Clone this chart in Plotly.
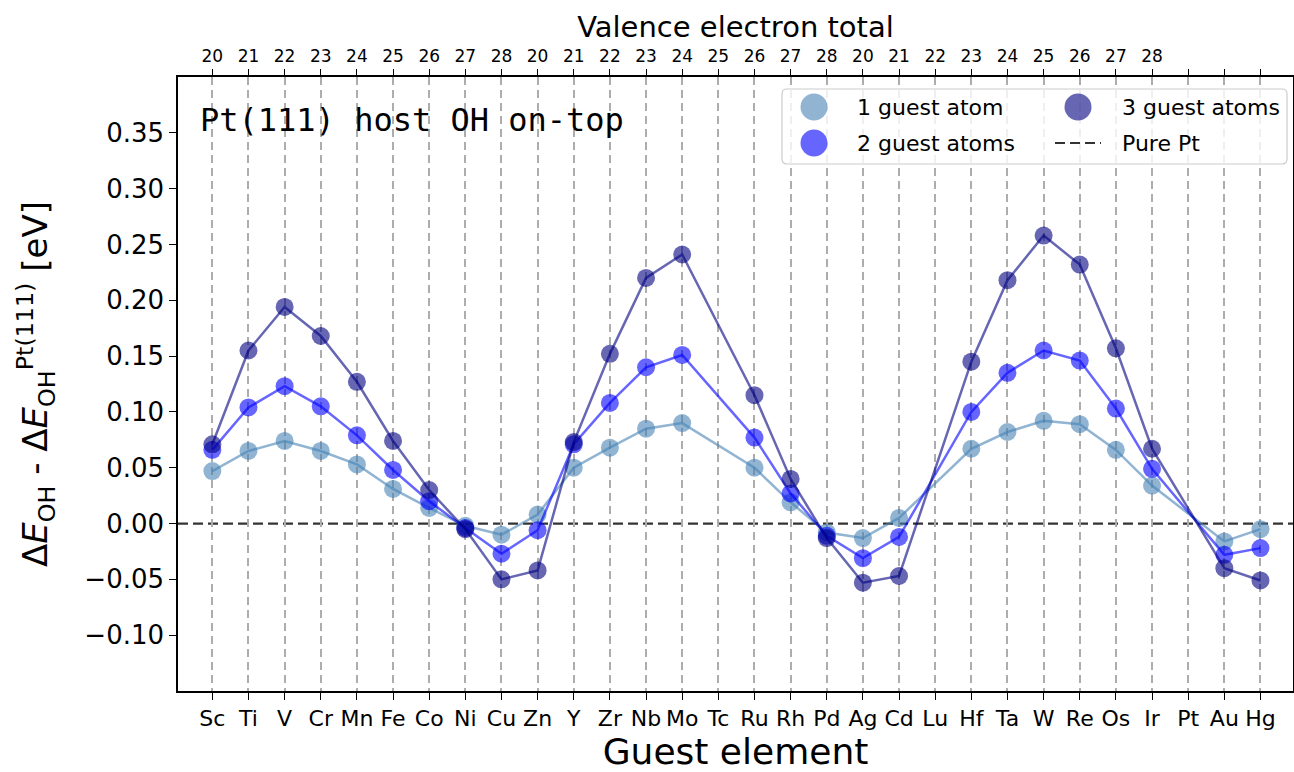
import plotly.graph_objects as go

# ---------------- data ----------------
elements = ["Sc", "Ti", "V", "Cr", "Mn", "Fe", "Co", "Ni", "Cu", "Zn",
            "Y", "Zr", "Nb", "Mo", "Tc", "Ru", "Rh", "Pd", "Ag", "Cd",
            "Lu", "Hf", "Ta", "W", "Re", "Os", "Ir", "Pt", "Au", "Hg"]
valence_labels = ["20", "21", "22", "23", "24", "25", "26", "27", "28",
                  "20", "21", "22", "23", "24", "25", "26", "27", "28",
                  "20", "21", "22", "23", "24", "25", "26", "27", "28",
                  "", "", ""]
one_guest = [0.047, 0.065, 0.074, 0.065, 0.053, 0.031, 0.014, -0.002, -0.010, 0.008,
             0.050, 0.068, 0.085, 0.090, None, 0.050, 0.019, -0.008, -0.013, 0.005,
             None, 0.067, 0.082, 0.092, 0.089, 0.066, 0.034, None, -0.016, -0.005]
two_guest = [0.066, 0.104, 0.123, 0.105, 0.079, 0.048, 0.020, -0.004, -0.027, -0.006,
             0.071, 0.108, 0.140, 0.151, None, 0.077, 0.027, -0.011, -0.031, -0.012,
             None, 0.100, 0.135, 0.155, 0.146, 0.103, 0.049, None, -0.028, -0.022]
three_guest = [0.071, 0.155, 0.194, 0.168, 0.127, 0.074, 0.030, -0.005, -0.050, -0.042,
               0.073, 0.152, 0.220, 0.241, None, 0.115, 0.040, -0.013, -0.053, -0.047,
               None, 0.145, 0.218, 0.258, 0.232, 0.157, 0.067, None, -0.040, -0.051]
series_names = ["1 guest atom", "2 guest atoms", "3 guest atoms"]
y_tick_vals = [-0.10, -0.05, 0.00, 0.05, 0.10, 0.15, 0.20, 0.25, 0.30, 0.35]
y_tick_text = ["\u22120.10", "\u22120.05", "0.00", "0.05", "0.10", "0.15",
               "0.20", "0.25", "0.30", "0.35"]

# ---------------- style ----------------
colors = ["rgba(70,130,180,0.6)", "rgba(0,0,255,0.6)", "rgba(0,0,128,0.6)"]
FONT = "DejaVu Sans"
W, H = 1294, 772
L, R, T, B = 178, 1, 77, 81
PW, PH = W - L - R, H - T - B


def px(x):
    return (x - L) / PW


def py(y):
    return (H - B - y) / PH


x_pos = list(range(len(elements)))
fig = go.Figure()
for vals, name, col in zip([one_guest, two_guest, three_guest], series_names, colors):
    fig.add_trace(go.Scatter(
        x=x_pos, y=vals, name=name, mode="lines+markers", connectgaps=True,
        line=dict(color=col, width=2.5),
        marker=dict(size=18, color=col, line=dict(width=0)),
        showlegend=False))

# invisible trace so the top axis is drawn
fig.add_trace(go.Scatter(x=x_pos, y=[None] * len(x_pos), xaxis="x2",
                         showlegend=False, hoverinfo="skip", mode="markers"))

xr = [-0.95, 29.9]
fig.update_layout(
    width=W, height=H,
    margin=dict(l=L, r=R, t=T, b=B, autoexpand=False),
    paper_bgcolor="white", plot_bgcolor="white",
    font=dict(family=FONT, color="black"),
    showlegend=False,
    xaxis=dict(
        range=xr, tickmode="array", tickvals=x_pos, ticktext=elements,
        tickfont=dict(size=22), tickangle=0, ticks="outside", ticklen=7, tickwidth=1.3,
        tickcolor="black",
        showline=True, linecolor="black", linewidth=1.5, mirror=True,
        showgrid=True, gridcolor="#adadad", gridwidth=2, griddash="8px,5px",
        zeroline=False,
        title=dict(text="Guest element", font=dict(size=36), standoff=8),
    ),
    xaxis2=dict(
        overlaying="x", side="top", anchor="y", range=xr,
        tickmode="array", tickvals=x_pos, ticktext=valence_labels,
        tickfont=dict(size=17), tickangle=0, ticks="outside", ticklen=7, tickwidth=1.3,
        tickcolor="black", showgrid=False, zeroline=False, showline=False,
        title=dict(text="Valence electron total", font=dict(size=29), standoff=0),
    ),
    yaxis=dict(
        range=[-0.15, 0.40], tickmode="array", tickvals=y_tick_vals,
        ticktext=y_tick_text, tickfont=dict(size=26), ticks="outside",
        ticklen=7, tickwidth=1.3, tickcolor="black",
        showline=True, linecolor="black", linewidth=1.5, mirror=True,
        showgrid=False, zeroline=False,
        title=dict(text="\u0394<i>E</i><sub>OH</sub> - \u0394<i>E</i><sub>OH</sub><sup>Pt(111)</sup> [eV]",
                   font=dict(size=34), standoff=26),
    ),
)

# reference line (pure Pt)
fig.add_shape(type="line", xref="paper", x0=0, x1=1, yref="y", y0=0, y1=0,
              line=dict(color="rgba(0,0,0,0.8)", width=2.2, dash="10px,5px"),
              layer="below")

# panel label
fig.add_annotation(text="Pt(111) host OH on-top", xref="paper", yref="paper",
                   x=px(198), y=py(120), xanchor="left", yanchor="middle",
                   showarrow=False, font=dict(family="DejaVu Sans Mono", size=32))

# ---------------- legend (drawn manually to match marker size) ----------------
x0, x1, y0, y1 = px(782), px(1287), py(164), py(89)
rx, ry = 5 / PW, 5 / PH
path = (f"M {x0+rx},{y0} L {x1-rx},{y0} Q {x1},{y0} {x1},{y0+ry} "
        f"L {x1},{y1-ry} Q {x1},{y1} {x1-rx},{y1} L {x0+rx},{y1} "
        f"Q {x0},{y1} {x0},{y1-ry} L {x0},{y0+ry} Q {x0},{y0} {x0+rx},{y0} Z")
fig.add_shape(type="path", path=path, xref="paper", yref="paper",
              fillcolor="rgba(255,255,255,0.8)", line=dict(color="#cccccc", width=1.2),
              layer="above")

legend_items = [(series_names[0], colors[0], 814, 107, 855),
                (series_names[1], colors[1], 814, 143, 855),
                (series_names[2], colors[2], 1078, 107, 1120)]
for name, col, cx, cy, tx in legend_items:
    fig.add_shape(type="circle", xref="paper", yref="paper",
                  xsizemode="pixel", ysizemode="pixel",
                  xanchor=px(cx), yanchor=py(cy), x0=-13.5, x1=13.5, y0=-13.5, y1=13.5,
                  fillcolor=col, line=dict(width=0), layer="above")
    fig.add_annotation(text=name, xref="paper", yref="paper", x=px(tx), y=py(cy),
                       xanchor="left", yanchor="middle", showarrow=False,
                       font=dict(size=22))
fig.add_shape(type="line", xref="paper", yref="paper", x0=px(1055), x1=px(1101),
              y0=py(143), y1=py(143),
              line=dict(color="rgba(0,0,0,0.8)", width=2.2, dash="10px,5px"), layer="above")
fig.add_annotation(text="Pure Pt", xref="paper", yref="paper", x=px(1120), y=py(143),
                   xanchor="left", yanchor="middle", showarrow=False, font=dict(size=22))

fig.write_html("out.html")
